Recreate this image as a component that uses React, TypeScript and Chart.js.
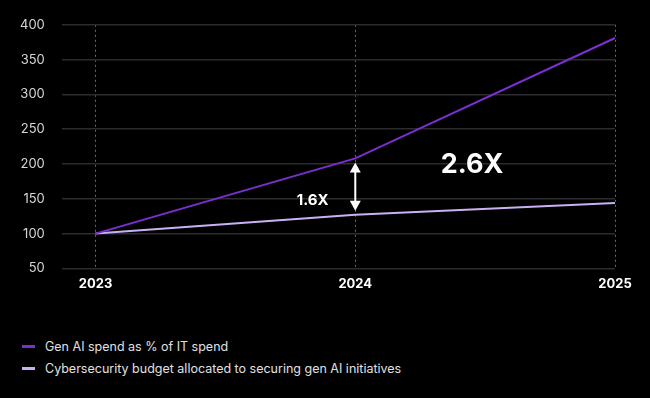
import React, { useEffect, useRef } from "react";
import { Chart, registerables } from "chart.js";

Chart.register(...registerables);

const years = [2023, 2024, 2025];
const genAiSpend = [100, 208, 381];
const cyberBudget = [100, 127, 144];
const seriesLabels = [
  "Gen AI spend as % of IT spend",
  "Cybersecurity budget allocated to securing gen AI initiatives",
];
const seriesColors = ["#7b2fd1", "#c9b0f6"];
const yTicks = [50, 100, 150, 200, 250, 300, 350, 400];
const annotations = [
  { text: "1.6X", x: 2023.836, y: 147, size: 15 },
  { text: "2.6X", x: 2024.45, y: 199, size: 27 },
];

const FONT = "Inter, 'Open Sans', sans-serif";

const annotPlugin = {
  id: "annot",
  afterDatasetsDraw(chart: any) {
    const { ctx, scales } = chart;
    const x = scales.x.getPixelForValue(years[1]);
    const y1 = scales.y.getPixelForValue(genAiSpend[1]) + 4;
    const y2 = scales.y.getPixelForValue(cyberBudget[1]) - 4;
    ctx.save();
    ctx.strokeStyle = "#ffffff";
    ctx.fillStyle = "#ffffff";
    ctx.lineWidth = 2;
    ctx.beginPath();
    ctx.moveTo(x, y1 + 6);
    ctx.lineTo(x, y2 - 6);
    ctx.stroke();
    ctx.beginPath();
    ctx.moveTo(x, y1);
    ctx.lineTo(x - 5.5, y1 + 10);
    ctx.lineTo(x + 5.5, y1 + 10);
    ctx.closePath();
    ctx.fill();
    ctx.beginPath();
    ctx.moveTo(x, y2);
    ctx.lineTo(x - 5.5, y2 - 10);
    ctx.lineTo(x + 5.5, y2 - 10);
    ctx.closePath();
    ctx.fill();
    ctx.textAlign = "center";
    ctx.textBaseline = "middle";
    for (const a of annotations) {
      ctx.font = `bold ${a.size}px ${FONT}`;
      ctx.fillText(a.text, scales.x.getPixelForValue(a.x), scales.y.getPixelForValue(a.y));
    }
    ctx.restore();
  },
};

export default function App() {
  const ref = useRef<HTMLCanvasElement>(null);
  useEffect(() => {
    document.body.style.margin = "0";
    document.body.style.background = "#000";
    const chart = new Chart(ref.current!, {
      type: "line",
      data: {
        datasets: [
          {
            label: seriesLabels[0],
            data: years.map((y, i) => ({ x: y, y: genAiSpend[i] })),
            borderColor: seriesColors[0],
            borderWidth: 2,
            pointRadius: 0,
          },
          {
            label: seriesLabels[1],
            data: years.map((y, i) => ({ x: y, y: cyberBudget[i] })),
            borderColor: seriesColors[1],
            borderWidth: 2,
            pointRadius: 0,
          },
        ],
      },
      options: {
        animation: false,
        responsive: false,
        maintainAspectRatio: false,
        layout: { padding: { left: 3, right: 35, top: 20, bottom: 0 } },
        plugins: { legend: { display: false }, tooltip: { enabled: false } },
        scales: {
          x: {
            type: "linear",
            min: 2022.87,
            max: 2025,
            afterBuildTicks: (axis: any) => {
              axis.ticks = years.map((v) => ({ value: v }));
            },
            grid: {
              color: "#6a6a6a",
              lineWidth: 1,
              drawTicks: false,
            },
            border: { display: false, dash: [2, 3] },
            ticks: {
              color: "#ffffff",
              font: { family: FONT, size: 13, weight: "bold" },
              padding: 8,
              callback: (v: any) => String(v),
            },
          },
          y: {
            min: 50,
            max: 400,
            afterBuildTicks: (axis: any) => {
              axis.ticks = yTicks.map((v) => ({ value: v }));
            },
            grid: { color: "#2c2c2c", lineWidth: 1.5, drawTicks: false },
            border: { display: false },
            ticks: {
              color: "#d6d6d6",
              font: { family: FONT, size: 13 },
              padding: 17,
            },
          },
        },
      },
      plugins: [annotPlugin],
    } as any);
    return () => chart.destroy();
  }, []);

  return (
    <div style={{ position: "relative", width: 650, height: 398, background: "#000", fontFamily: FONT }}>
      <canvas ref={ref} width={650} height={300} style={{ display: "block" }} />
      <div style={{ position: "absolute", left: 22, top: 335 }}>
        {seriesLabels.map((l, i) => (
          <div key={l} style={{ display: "flex", alignItems: "center", height: 22, color: "#e0e0e0", fontSize: 12.5 }}>
            <span style={{ display: "inline-block", width: 13, height: 3, background: seriesColors[i], marginRight: 10 }} />
            {l}
          </div>
        ))}
      </div>
    </div>
  );
}
